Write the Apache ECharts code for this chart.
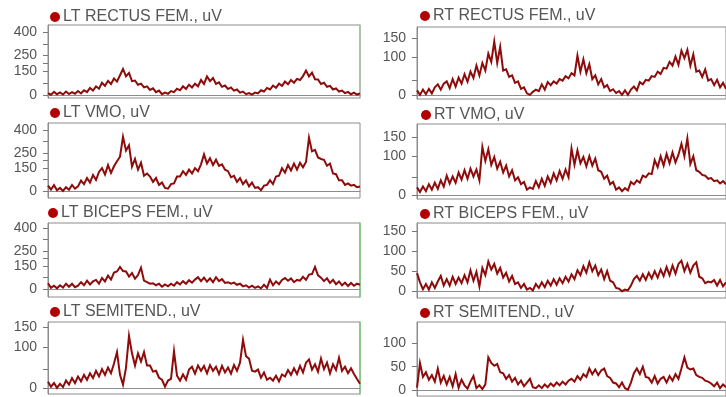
<!DOCTYPE html>
<html>
<head>
<meta charset="utf-8">
<script src="https://cdn.jsdelivr.net/npm/echarts@6/dist/echarts.min.js"></script>
<style>
  html, body { margin: 0; padding: 0; background: #ffffff; }
  #chart { width: 726px; height: 397px; }
</style>
</head>
<body>
<div id="chart"></div>
<script>
// EMG envelopes (uV) over three gait cycles, one sample per column step
const sampleCount = 105;
const samples = Array.from({ length: sampleCount }, (_, i) => i);

const ltRectusFem = [12,2,20,5,16,3,22,6,18,8,25,10,30,18,45,28,55,40,78,58,90,70,105,85,125,165,118,140,88,92,65,72,48,55,32,42,18,28,5,15,8,25,18,40,30,55,38,65,48,72,55,95,70,118,88,108,70,80,52,60,38,48,28,35,15,22,5,12,2,15,10,30,22,45,35,60,45,72,58,85,68,95,78,102,95,120,155,118,142,100,98,70,78,52,58,35,42,22,28,12,20,5,15,3,10];
const ltVmo = [35,10,38,5,20,0,25,8,40,15,30,68,45,85,55,105,72,125,150,108,170,118,162,195,225,355,265,300,160,210,140,185,100,115,95,60,85,40,55,20,15,45,50,95,95,130,105,140,115,150,130,175,240,180,215,170,205,165,175,140,130,90,100,60,85,45,70,30,55,20,25,5,35,40,70,45,95,100,150,120,170,135,180,140,185,155,190,350,260,270,220,210,205,165,180,115,110,70,70,40,50,35,40,25,30];
const ltBicepsFem = [38,8,22,5,25,10,35,15,35,12,22,45,25,55,30,50,60,35,72,50,88,62,108,115,145,118,115,82,105,68,92,140,55,45,35,38,25,35,15,30,18,35,22,45,30,52,35,58,42,62,78,52,75,48,70,45,78,52,65,40,45,35,42,28,35,18,25,10,22,8,18,5,28,8,62,25,50,32,60,72,55,70,45,60,55,80,60,95,98,145,90,75,52,70,40,60,32,50,25,42,20,40,22,35,28];
const ltSemitend = [15,3,12,0,10,2,18,8,24,12,28,16,32,20,36,24,42,28,46,32,50,36,60,88,32,8,50,128,85,55,85,65,88,55,55,40,42,25,20,3,18,22,90,30,18,33,20,45,52,35,55,42,54,36,56,42,52,34,54,38,50,35,56,42,62,118,78,72,42,40,45,25,38,20,25,18,30,16,33,28,44,32,48,34,54,38,62,70,45,58,40,72,46,62,36,58,44,74,42,52,36,48,34,22,10];
const rtRectusFem = [12,0,14,2,16,4,20,28,14,30,36,18,42,22,46,30,55,35,62,45,78,52,85,65,110,88,142,85,128,65,68,48,52,32,36,16,20,4,0,8,14,10,28,14,34,26,36,30,42,38,50,44,58,52,105,62,95,58,82,42,52,28,42,20,26,10,15,5,10,0,12,0,14,22,12,34,28,40,38,50,48,62,56,72,70,88,78,102,80,118,98,120,78,108,62,65,48,68,38,42,26,40,20,32,16];
const rtVmo = [20,8,22,10,28,14,32,16,38,22,50,30,48,32,58,40,64,42,68,48,66,38,124,88,118,78,98,68,86,58,76,48,64,38,46,28,34,14,20,16,36,20,42,24,48,32,56,38,62,42,66,46,120,78,115,82,98,74,100,76,94,64,60,42,50,28,34,14,20,10,18,12,34,28,38,32,50,46,56,54,90,72,100,76,106,82,110,84,104,132,100,146,80,100,64,60,52,50,42,44,36,38,30,36,28];
const rtBicepsFem = [45,22,5,18,4,22,8,24,38,14,30,14,36,18,34,20,40,22,52,26,48,12,58,40,74,54,68,44,58,34,46,24,38,18,22,8,18,4,8,2,18,8,22,10,26,14,30,16,32,20,36,24,42,30,52,40,62,46,72,50,64,40,54,30,50,26,22,8,6,0,4,2,14,30,38,26,42,28,46,32,50,34,54,38,60,40,64,44,68,76,50,68,46,64,72,36,32,20,24,22,28,14,28,12,22];
const rtSemitend = [5,58,28,38,22,32,18,46,16,30,12,28,8,34,5,22,10,3,18,30,4,10,2,12,70,58,52,56,38,36,24,32,18,26,12,20,8,16,24,6,4,10,4,12,6,14,8,16,10,18,12,20,24,18,30,22,34,28,46,34,44,32,42,46,30,26,16,14,6,16,4,1,16,36,46,34,50,28,26,16,30,14,24,28,16,30,20,34,24,46,70,48,44,46,32,28,26,20,18,14,8,16,4,12,6];

// Axis label and tick values per scale
const leftWideLabels = [0, 150, 250, 400];
const leftWideTicks = [0, 75, 150, 200, 250, 325, 400];
const ltSemitendLabels = [0, 100, 150];
const ltSemitendTicks = [0, 45, 100, 150];
const rtRectusLabels = [0, 100, 150];
const rtRectusTicks = [0, 40, 100, 150];
const rtVmoLabels = [0, 100, 150];
const rtVmoTicks = [0, 45, 100, 150];
const rtBicepsLabels = [0, 50, 100, 150];
const rtBicepsTicks = [0, 50, 100, 150];
const rtSemitendLabels = [0, 50, 100];
const rtSemitendTicks = [0, 50, 100];

const panels = [
  { name: 'LT RECTUS FEM., uV', values: ltRectusFem, labels: leftWideLabels, ticks: leftWideTicks,
    box: [48, 25, 312, 73], range: [-19, 444], titlePos: [50, 8], edge: '#a9c2a9' },
  { name: 'LT VMO, uV', values: ltVmo, labels: leftWideLabels, ticks: leftWideTicks,
    box: [48, 123, 312, 75], range: [-46, 446], titlePos: [50, 104], edge: null },
  { name: 'LT BICEPS FEM., uV', values: ltBicepsFem, labels: leftWideLabels, ticks: leftWideTicks,
    box: [48, 223, 312, 74], range: [-52, 433], titlePos: [48, 204], edge: '#7fc97f' },
  { name: 'LT SEMITEND., uV', values: ltSemitend, labels: ltSemitendLabels, ticks: ltSemitendTicks,
    box: [48, 322, 312, 72], range: [-15, 162], titlePos: [50, 303], edge: '#7fc97f' },
  { name: 'RT RECTUS FEM., uV', values: rtRectusFem, labels: rtRectusLabels, ticks: rtRectusTicks,
    box: [417, 27, 312, 72], range: [-11, 181], titlePos: [420, 7], edge: null },
  { name: 'RT VMO, uV', values: rtVmo, labels: rtVmoLabels, ticks: rtVmoTicks,
    box: [417, 124, 312, 75], range: [-10, 183], titlePos: [421, 106], edge: null },
  { name: 'RT BICEPS FEM., uV', values: rtBicepsFem, labels: rtBicepsLabels, ticks: rtBicepsTicks,
    box: [417, 223, 312, 75], range: [-17, 170], titlePos: [420, 205], edge: null },
  { name: 'RT SEMITEND., uV', values: rtSemitend, labels: rtSemitendLabels, ticks: rtSemitendTicks,
    box: [417, 322, 312, 75], range: [-13, 146], titlePos: [420, 304], edge: null }
];

const TEXT = '#555555';
const FRAME = '#8c8c8c';
const TRACE = '#8e0b0b';
const DOT = '#b30000';
const FONT = 'Liberation Sans, Arial, sans-serif';

const option = {
  animation: false,
  backgroundColor: '#ffffff',
  title: [], grid: [], xAxis: [], yAxis: [], series: []
};

panels.forEach((p, k) => {
  option.title.push({
    left: p.titlePos[0], top: p.titlePos[1], padding: 0,
    text: '{d|}{t|' + p.name + '}',
    textStyle: {
      fontWeight: 'normal',
      rich: {
        d: { width: 10, height: 10, borderRadius: 5, backgroundColor: DOT },
        t: { fontFamily: FONT, fontSize: 16, fontWeight: 'normal', color: TEXT, lineHeight: 18, padding: [0, 0, 0, 3] }
      }
    }
  });
  option.grid.push({
    left: p.box[0], top: p.box[1], width: p.box[2], height: p.box[3],
    show: true, borderColor: FRAME, borderWidth: 1, backgroundColor: 'transparent'
  });
  option.xAxis.push({
    type: 'category', gridIndex: k, data: samples, boundaryGap: false,
    axisLine: { show: true, lineStyle: { color: FRAME, width: 1 } },
    axisTick: { show: false }, axisLabel: { show: false }, splitLine: { show: false }
  });
  option.yAxis.push({
    type: 'value', gridIndex: k, min: p.range[0], max: p.range[1],
    axisLine: { show: true, lineStyle: { color: FRAME, width: 1 } },
    axisTick: { show: true, length: 5, customValues: p.ticks, lineStyle: { color: '#777777' } },
    axisLabel: { customValues: p.labels, margin: 11, fontFamily: FONT, fontSize: 14, color: TEXT },
    splitLine: { show: false }
  });
  const yIndex = option.yAxis.length - 1;
  if (p.edge) {
    option.yAxis.push({
      type: 'value', gridIndex: k, position: 'right', min: p.range[0], max: p.range[1],
      axisLine: { show: true, lineStyle: { color: p.edge, width: 1.5 } },
      axisTick: { show: false }, axisLabel: { show: false }, splitLine: { show: false }
    });
  }
  option.series.push({
    type: 'line', xAxisIndex: k, yAxisIndex: yIndex, data: p.values,
    showSymbol: false, symbol: 'none',
    lineStyle: { color: TRACE, width: 2, join: 'miter' }
  });
});

const chart = echarts.init(document.getElementById('chart'), null, { renderer: 'canvas' });
chart.setOption(option);
</script>
</body>
</html>
